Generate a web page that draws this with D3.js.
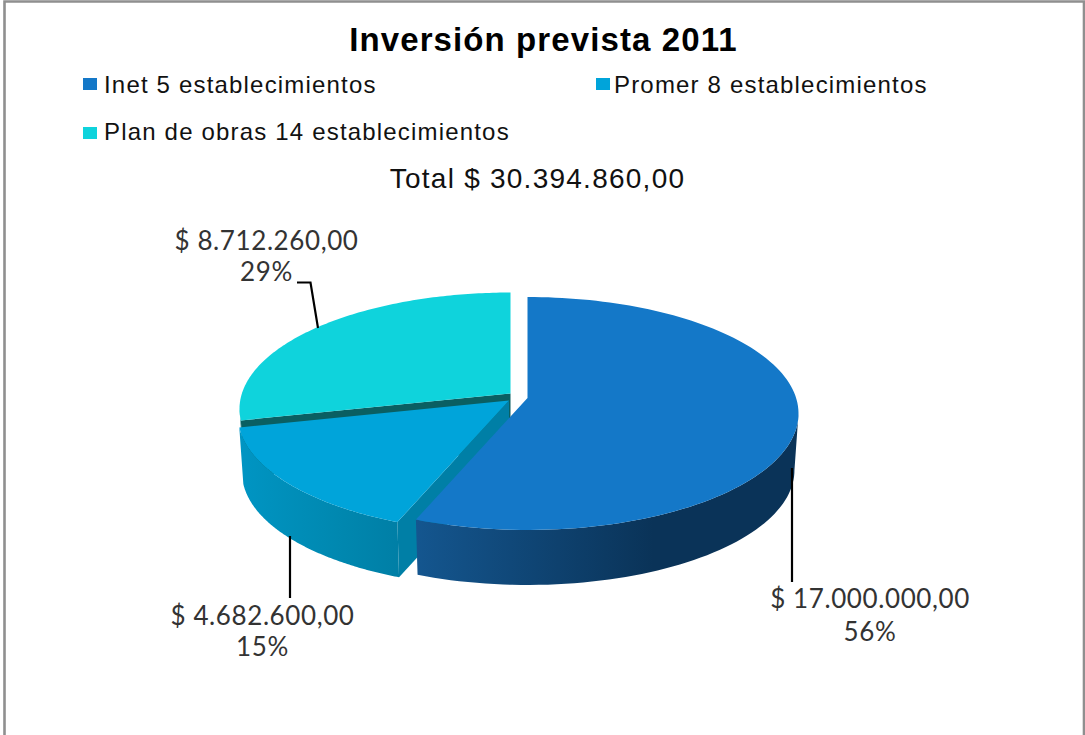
<!DOCTYPE html>
<html><head><meta charset="utf-8">
<style>html,body{margin:0;padding:0;background:#fff;overflow:hidden}svg{display:block}</style>
<script src="https://d3js.org/d3.v7.min.js"></script></head>
<body><svg id="c" width="1085" height="735"></svg>
<script>
const titleText = "Inversión prevista 2011";
const subtitleText = "Total $ 30.394.860,00";
const categories = ["Inet 5 establecimientos", "Promer 8 establecimientos", "Plan de obras 14 establecimientos"];
const values = [17000000, 4682600, 8712260];
const topColors = ["#1478c8", "#00a4da", "#0fd3dc"];
const cutColors = [null, "#007fa6", "#0a5f62"];
const sideStops = [["#14568f", "#0a3358", "#0a3358"], ["#0095c3", "#0088b0", "#007fa6"], ["#0a8f95", "#0a7a80", "#0a6f74"]];

const svg = d3.select("#c");
const defs = svg.append("defs");
svg.append("path").attr("d", "M4.5 735V1.5H1084V735").attr("fill", "none").attr("stroke", "#8f8f8f").attr("stroke-width", 2.6);

const locale = d3.formatLocale({decimal: ",", thousands: ".", grouping: [3], currency: ["$ ", ""]});
const money = locale.format("$,.2f");
const pct = d3.format(".0%");
const total = d3.sum(values);
const arcs = d3.pie().sort(null).value(d => d)(values);

// perspective projection of the pie disc
const R = 268.6, A = 114.4, K = 0.133, DEPTH = 57, LOWER = 0.985;
const apex = [[527.5, 398], [509, 400.5], [510.5, 393.5]];
const pt = (c, t, r, low) => {
  const u = Math.sin(t) * r, v = -Math.cos(t) * r, d = 1 - K * v, s = low ? LOWER : 1;
  return [c[0] + s * R * u / d, c[1] + (low ? DEPTH : 0) + s * A * v / d];
};
const line = d3.line();
const samples = a => d3.range(0, 121).map(i => a.startAngle + (a.endAngle - a.startAngle) * i / 120);
const silhouette = Math.acos(-K);
const clampFront = t => Math.max(silhouette, Math.min(2 * Math.PI - silhouette, t));

[2, 1, 0].forEach(i => {
  const a = arcs[i], c = apex[i], g = svg.append("g");
  const ts = samples(a);
  const wall = ts.map(clampFront);
  const grad = defs.append("linearGradient").attr("id", "s" + i).attr("gradientUnits", "userSpaceOnUse");
  const xs = wall.map(t => pt(c, t, 1, false)[0]);
  grad.attr("x1", d3.min(xs)).attr("x2", d3.max(xs)).attr("y1", 0).attr("y2", 0);
  sideStops[i].forEach((col, j) => grad.append("stop").attr("offset", [0, 0.62, 1][j]).attr("stop-color", col));

  // outer wall
  g.append("path").attr("fill", `url(#s${i})`).attr("d", line([
    ...wall.map(t => pt(c, t, 1, false)), ...wall.slice().reverse().map(t => pt(c, t, 1, true))]) + "Z");
  // cut face looking towards the viewer
  if (cutColors[i]) {
    const cutT = a.startAngle;
    g.append("path").attr("fill", cutColors[i]).attr("d", line([
      pt(c, cutT, 0, false), pt(c, cutT, 1, false), pt(c, cutT, 1, true), pt(c, cutT, 0, true)]) + "Z");
  }
  // top face
  g.append("path").attr("fill", topColors[i]).attr("d", line([pt(c, 0, 0, false), ...ts.map(t => pt(c, t, 1, false))]) + "Z");
});

// leader lines
const leaders = [
  [[792, 468], [792, 582]],
  [[290, 536], [290, 598]],
  [[297, 282.5], [310.5, 282.5], [318, 328]]
];
leaders.forEach(l => svg.append("path").attr("d", line(l)).attr("fill", "none").attr("stroke", "#000").attr("stroke-width", 2.2));

const sans = "'Liberation Sans', Arial, sans-serif";
svg.append("text").text(titleText).attr("x", 543.5).attr("y", 51).attr("text-anchor", "middle")
  .attr("font-family", sans).attr("font-weight", 700).attr("font-size", 33).attr("letter-spacing", 1.1).attr("fill", "#000");
svg.append("text").text(subtitleText).attr("x", 537.5).attr("y", 188).attr("text-anchor", "middle")
  .attr("font-family", sans).attr("font-size", 28).attr("letter-spacing", 1.25).attr("fill", "#111");

const legendPos = [[83, 78, 104, 93], [596, 78, 614, 93], [83, 127, 104, 140]];
categories.forEach((n, i) => {
  const p = legendPos[i];
  svg.append("rect").attr("x", p[0]).attr("y", p[1]).attr("width", 14).attr("height", 12).attr("fill", topColors[i]);
  svg.append("text").text(n).attr("x", p[2]).attr("y", p[3]).attr("font-family", sans).attr("font-size", 24).attr("letter-spacing", 1.18).attr("fill", "#111");
});

const labelPos = [[870, 608, 641], [262.5, 625, 656], [266.5, 250, 281]];
values.forEach((v, i) => {
  const p = labelPos[i];
  const t = svg.append("text").attr("text-anchor", "middle").attr("font-family", "Lato, Carlito, sans-serif").attr("font-size", 26).attr("letter-spacing", 0.6).attr("fill", "#333");
  t.append("tspan").attr("x", p[0]).attr("y", p[1]).text(money(v));
  t.append("tspan").attr("x", p[0]).attr("y", p[2]).text(pct(v / total));
});
</script></body></html>
